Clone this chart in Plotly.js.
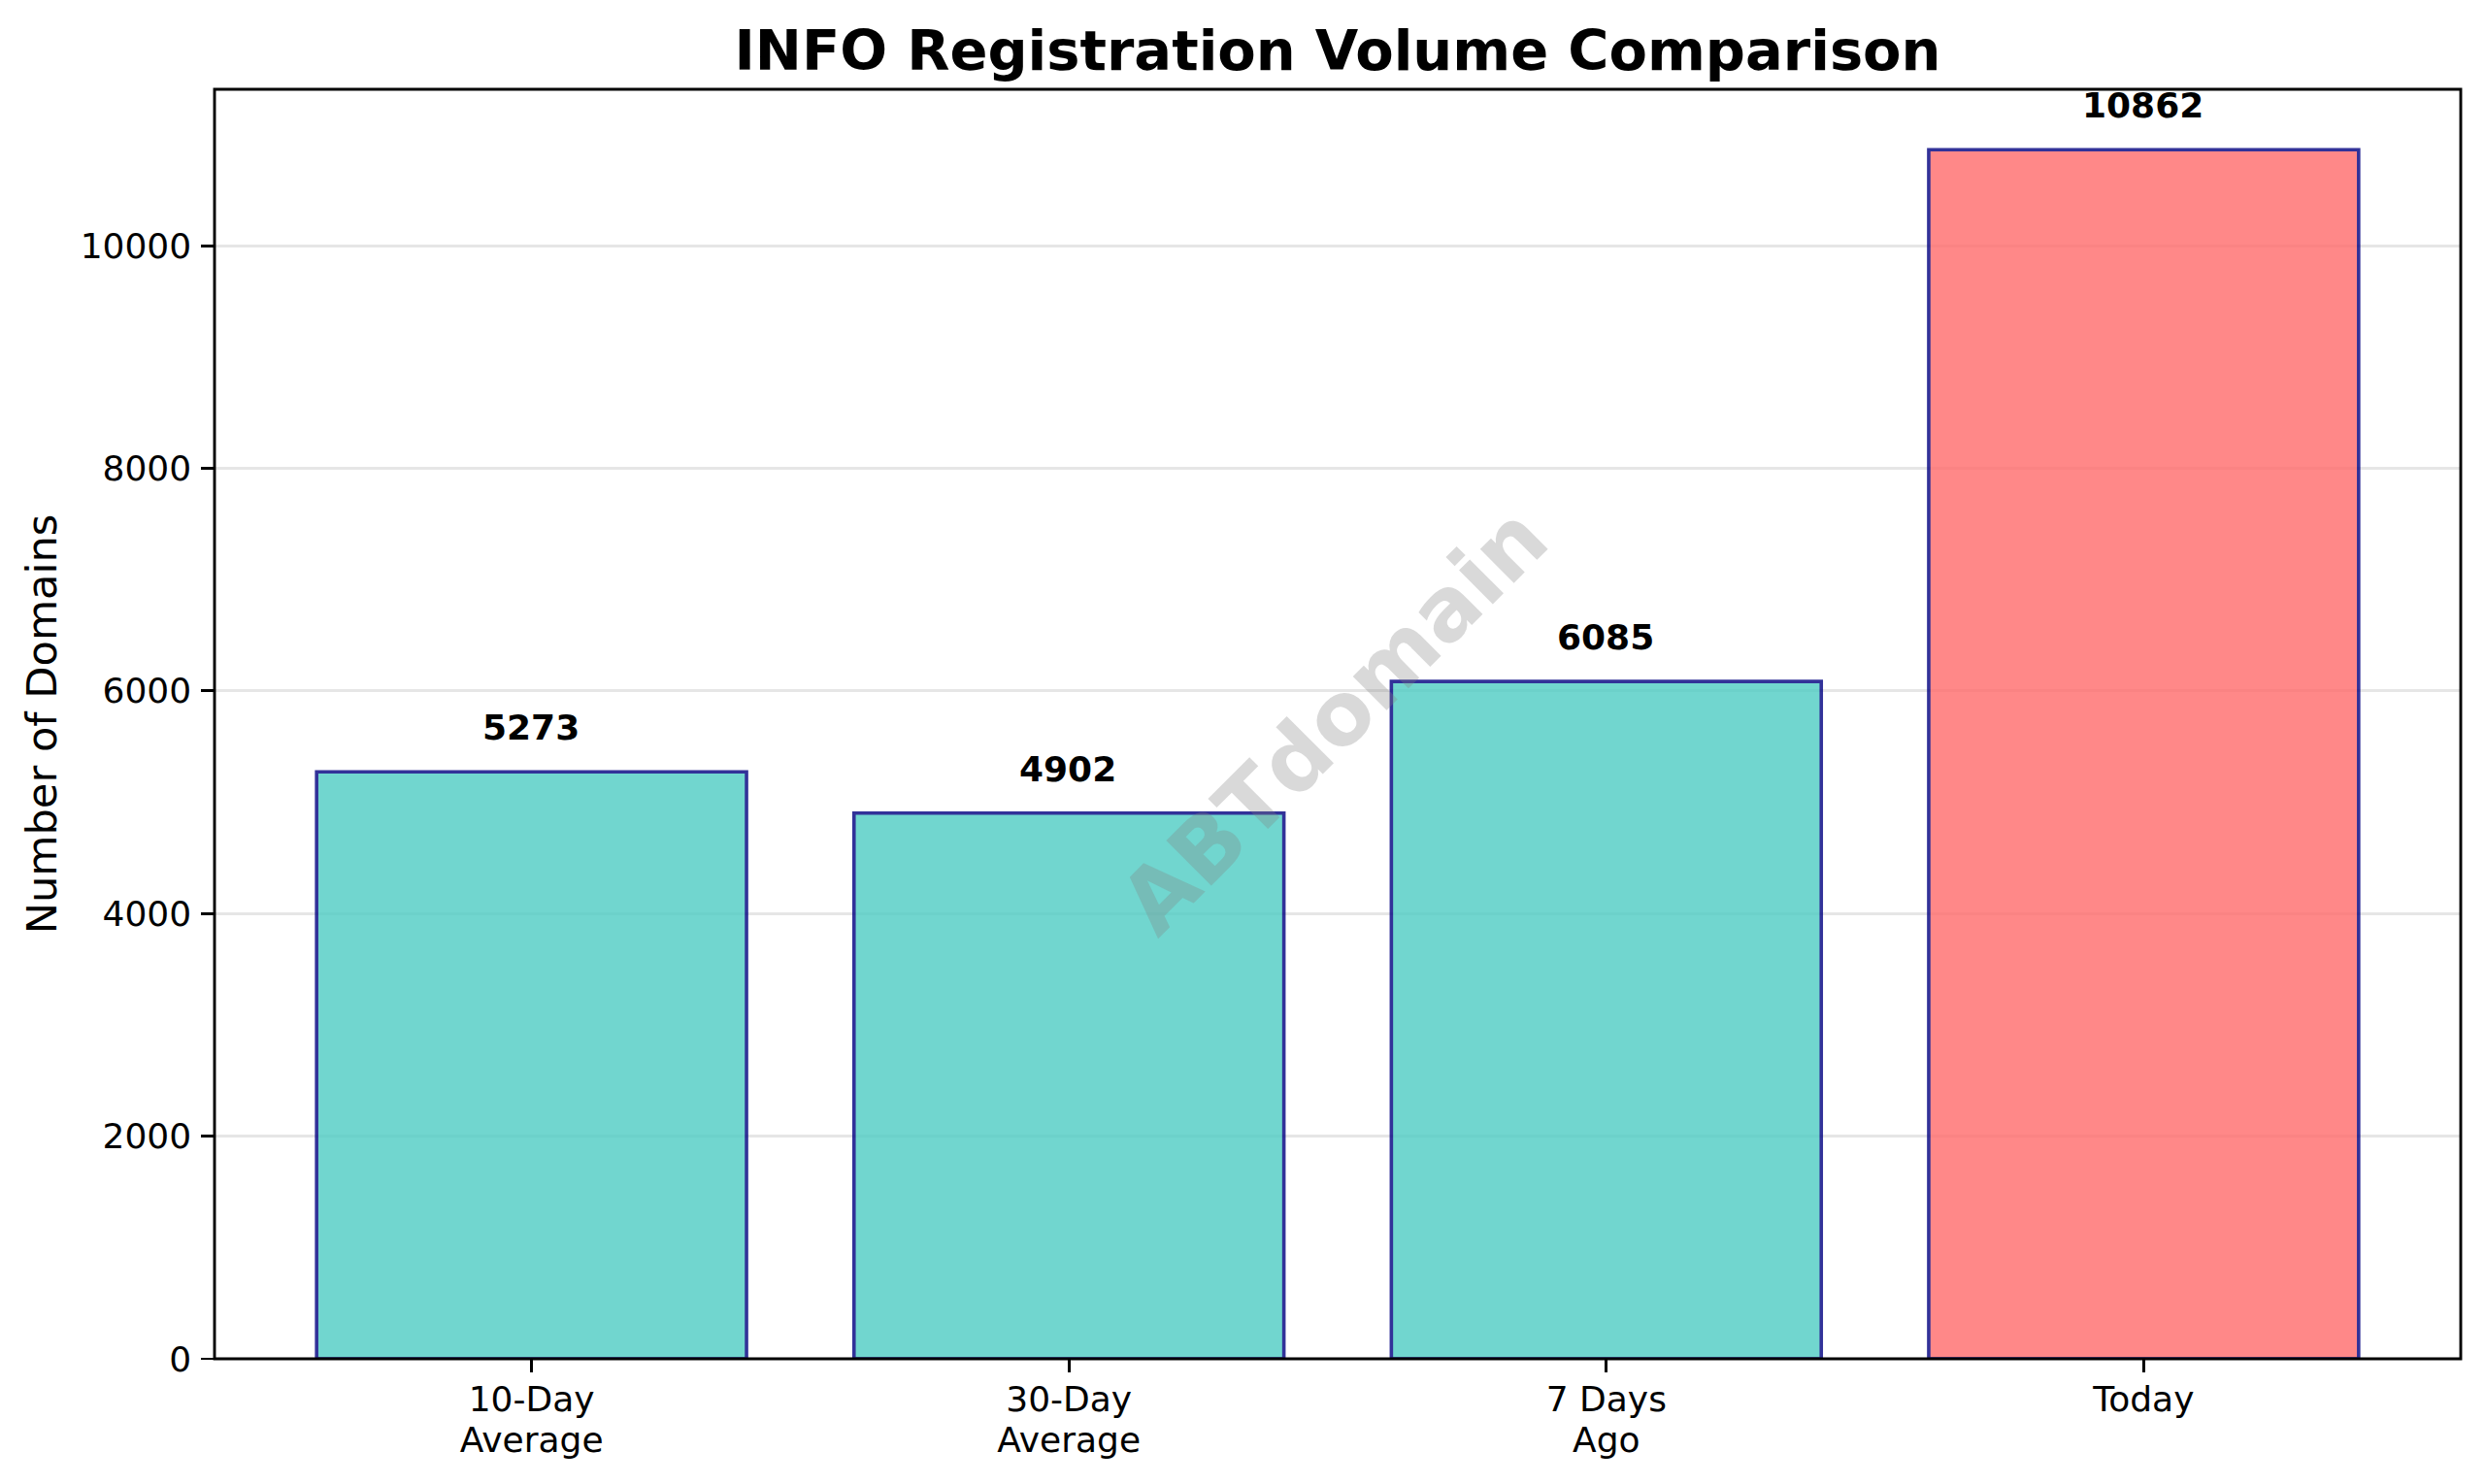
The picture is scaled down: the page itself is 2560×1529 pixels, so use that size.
<!DOCTYPE html>
<html>
<head>
<meta charset="utf-8">
<script src="https://cdn.plot.ly/plotly-3.0.1.min.js"></script>
<style>html,body{margin:0;padding:0;background:#fff}</style>
</head>
<body>
<div id="chart" style="width:2560px;height:1529px"></div>
<script>
const categories = ["10-Day<br>Average", "30-Day<br>Average", "7 Days<br>Ago", "Today"];
const values = [5273, 4902, 6085, 10862];
const barColors = ["#4ECDC4", "#4ECDC4", "#4ECDC4", "#FF6B6B"];
const yTicks = [0, 2000, 4000, 6000, 8000, 10000];
const chartTitle = "INFO Registration Volume Comparison";
const yTitle = "Number of Domains";
const watermark = "ABTdomain";

const font = "DejaVu Sans, sans-serif";
const data = [{
  type: "bar",
  x: categories,
  y: values,
  marker: {color: barColors, opacity: 0.8, line: {color: "#000080", width: 3.6}},
  hoverinfo: "skip"
}];
const labels = values.map((v, i) => ({
  x: categories[i], y: v, xref: "x", yref: "y",
  text: "<b>" + v + "</b>", showarrow: false,
  yanchor: "bottom", yshift: 23, xshift: -1,
  font: {family: font, size: 36, color: "#000"}
}));
const layout = {
  width: 2560, height: 1529,
  margin: {l: 221, r: 25, t: 92, b: 129},
  paper_bgcolor: "#fff", plot_bgcolor: "#fff",
  showlegend: false,
  bargap: 0.2,
  font: {family: font, color: "#000"},
  title: {text: "<b>" + chartTitle + "</b>", x: 0.5, xref: "paper", xanchor: "center", y: 0.966, yref: "container", yanchor: "middle",
          font: {family: font, size: 57.5, color: "#000"}},
  xaxis: {
    type: "category", range: [-0.59, 3.59], showgrid: false, zeroline: false,
    showline: false,
    ticks: "outside", ticklen: 12.6, tickwidth: 2.9, tickcolor: "#000", ticklabelstandoff: -3,
    tickangle: 0, tickfont: {family: font, size: 36, color: "#000"}, automargin: false
  },
  yaxis: {
    range: [0, 11405.1], tickvals: yTicks, ticktext: yTicks.map(String),
    showgrid: true, gridcolor: "rgba(128,128,128,0.2)", gridwidth: 2.9, zeroline: false,
    showline: false,
    ticks: "outside", ticklen: 12.6, tickwidth: 2.9, tickcolor: "#000", ticklabelstandoff: 3,
    tickfont: {family: font, size: 36, color: "#000"}, automargin: false,
    title: {text: yTitle, font: {family: font, size: 43.2, color: "#000"}, standoff: 10}
  },
  shapes: [{type: "rect", xref: "paper", yref: "paper", x0: 0, x1: 1, y0: 0, y1: 1, layer: "above",
            line: {color: "#000", width: 2.9}, fillcolor: "rgba(0,0,0,0)"}],
  annotations: labels.concat([{
    xref: "paper", yref: "paper", x: 0.5, y: 0.5, xanchor: "center", yanchor: "middle",
    xshift: -5, yshift: 4,
    text: "<b>" + watermark + "</b>", showarrow: false, textangle: -45,
    font: {family: font, size: 90, color: "rgba(128,128,128,0.3)"}
  }])
};
Plotly.newPlot("chart", data, layout, {displayModeBar: false, staticPlot: true}).then(() => {
  document.querySelectorAll(".xtick tspan.line").forEach(t => {
    if (t.getAttribute("dy") && parseFloat(t.getAttribute("dy")) > 0) t.setAttribute("dy", "1.18em");
  });
});
</script>
</body>
</html>
